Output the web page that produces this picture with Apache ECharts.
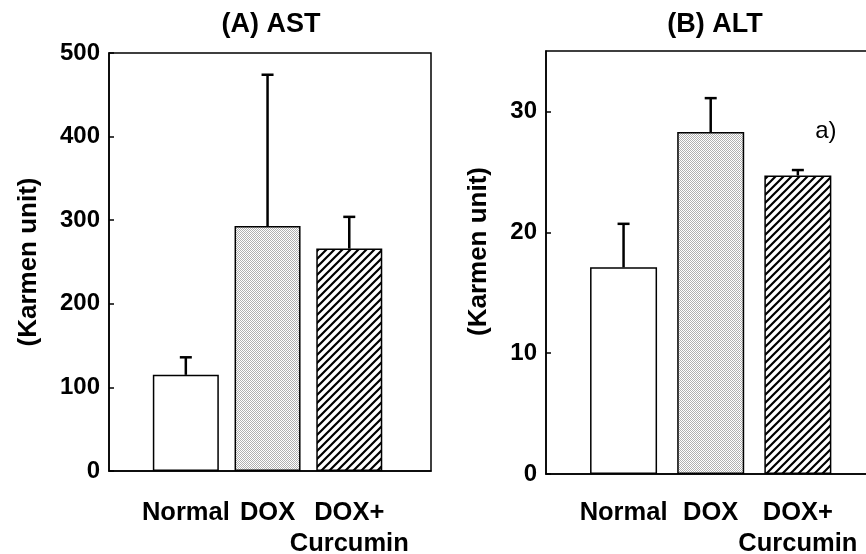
<!DOCTYPE html>
<html><head><meta charset="utf-8">
<script src="https://cdn.jsdelivr.net/npm/echarts@6/dist/echarts.min.js"></script>
<style>html,body{margin:0;padding:0;background:#fff}#c{width:866px;height:554px}</style>
</head><body><div id="c"></div>
<script>
const categories = ['Normal', 'DOX', 'DOX+\nCurcumin'];
const astMean = [115, 293, 266];
const astSD = [21, 181, 38];
const altMean = [17.1, 28.3, 24.7];
const altSD = [3.6, 2.8, 0.45];
const astTicks = [0, 100, 200, 300, 400, 500];
const altTicks = [0, 10, 20, 30];
const titles = ['(A) AST', '(B) ALT'];
const yName = '(Karmen unit)';
const altNote = 'a)';

function dotPattern() {
  const c = document.createElement('canvas'); c.width = 2; c.height = 2;
  const g = c.getContext('2d');
  g.fillStyle = '#fff'; g.fillRect(0, 0, 2, 2);
  g.fillStyle = '#b0b0b0'; g.fillRect(0, 0, 1, 1); g.fillRect(1, 1, 1, 1);
  return { image: c, repeat: 'repeat' };
}
function hatchPattern() {
  const s = 8;
  const c = document.createElement('canvas'); c.width = s; c.height = s;
  const g = c.getContext('2d');
  g.fillStyle = '#fff'; g.fillRect(0, 0, s, s);
  g.strokeStyle = '#000'; g.lineWidth = 2.2;
  g.beginPath();
  g.moveTo(-1, s + 1); g.lineTo(s + 1, -1);
  g.moveTo(-1, 1); g.lineTo(1, -1);
  g.moveTo(s - 1, s + 1); g.lineTo(s + 1, s - 1);
  g.stroke();
  return { image: c, repeat: 'repeat' };
}
const fills = ['#ffffff', dotPattern(), hatchPattern()];
const FONT = 'Liberation Sans, Arial, sans-serif';

function barData(means, note) {
  return means.map((v, i) => {
    const d = { value: [i + 1, v], itemStyle: { color: fills[i] } };
    if (note && i === 2) {
      d.label = { show: true, position: 'top', formatter: note, offset: [28, -27],
        fontSize: 24, fontFamily: FONT, fontWeight: 'normal', color: '#000' };
    }
    return d;
  });
}
function errData(means, sds) {
  return means.map((v, i) => [i + 1, v, v + sds[i]]);
}
function renderErr(params, api) {
  const x = api.value(0);
  const p0 = api.coord([x, api.value(1)]);
  const p1 = api.coord([x, api.value(2)]);
  const st = { stroke: '#000', lineWidth: 2.5 };
  return { type: 'group', children: [
    { type: 'line', shape: { x1: p0[0], y1: p0[1], x2: p1[0], y2: p1[1] }, style: st },
    { type: 'line', shape: { x1: p1[0] - 6, y1: p1[1], x2: p1[0] + 6, y2: p1[1] }, style: st }
  ]};
}
function xAxisCfg(idx, min, max, labelPositions, showLine, margin) {
  return { type: 'value', gridIndex: idx, min: min, max: max, position: 'bottom',
    axisLine: { show: showLine, lineStyle: { color: '#000', width: 1.5 } },
    axisTick: { show: false }, splitLine: { show: false },
    axisLabel: { customValues: labelPositions, formatter: v => categories[Math.round(v) - 1] || '',
      hideOverlap: false, showMinLabel: true, showMaxLabel: true,
      fontSize: 25.5, fontWeight: 'bold', fontFamily: FONT, color: '#000', lineHeight: 31, margin: margin } };
}
function yAxisCfg(idx, max, ticks, gap, pad) {
  return { type: 'value', gridIndex: idx, min: 0, max: max,
    name: yName, nameLocation: 'middle', nameGap: gap,
    nameTextStyle: { fontSize: 26, fontWeight: 'bold', fontFamily: FONT, color: '#000', padding: pad },
    axisLine: { show: true, lineStyle: { color: '#000', width: 1.5 } },
    axisTick: { show: true, inside: true, length: 5, customValues: ticks, lineStyle: { color: '#000', width: 1.5 } },
    splitLine: { show: false },
    axisLabel: { customValues: ticks, showMinLabel: true, showMaxLabel: true,
      fontSize: 24, fontWeight: 'bold', fontFamily: FONT, color: '#000', margin: 9 } };
}
const chart = echarts.init(document.getElementById('c'), null, { renderer: 'canvas' });
chart.setOption({
  animation: false,
  backgroundColor: '#fff',
  title: [
    { text: titles[0], left: 266, top: 6, textAlign: 'center',
      textStyle: { fontSize: 27, fontWeight: 'bold', fontFamily: FONT, color: '#000' } },
    { text: titles[1], left: 710, top: 6, textAlign: 'center',
      textStyle: { fontSize: 27, fontWeight: 'bold', fontFamily: FONT, color: '#000' } }
  ],
  grid: [
    { left: 109, top: 53, width: 322, height: 418, outerBoundsMode: 'none', containLabel: false,
      show: true, borderColor: '#000', borderWidth: 1.5, backgroundColor: 'transparent' },
    { left: 546, top: 51, width: 339, height: 423, outerBoundsMode: 'none', containLabel: false,
      show: true, borderColor: '#000', borderWidth: 1.5, backgroundColor: 'transparent' }
  ],
  xAxis: [
    xAxisCfg(0, 0.06, 4.0, [1, 2], true, 26), xAxisCfg(0, 0.06, 4.0, [3], false, 26),
    xAxisCfg(1, 0.11, 4.0, [1, 2], true, 23), xAxisCfg(1, 0.11, 4.0, [3], false, 23)
  ],
  yAxis: [yAxisCfg(0, 500, astTicks, 67, 0), yAxisCfg(1, 35, altTicks, 54, [0, 0, 0, 22])],
  series: [
    { type: 'bar', xAxisIndex: 0, yAxisIndex: 0, barWidth: 66, data: barData(astMean),
      itemStyle: { borderColor: '#000', borderWidth: 1.5 } },
    { type: 'custom', xAxisIndex: 0, yAxisIndex: 0, renderItem: renderErr, data: errData(astMean, astSD), z: 5 },
    { type: 'bar', xAxisIndex: 2, yAxisIndex: 1, barWidth: 67, data: barData(altMean, altNote),
      itemStyle: { borderColor: '#000', borderWidth: 1.5 } },
    { type: 'custom', xAxisIndex: 2, yAxisIndex: 1, renderItem: renderErr, data: errData(altMean, altSD), z: 5 }
  ]
});
</script></body></html>
